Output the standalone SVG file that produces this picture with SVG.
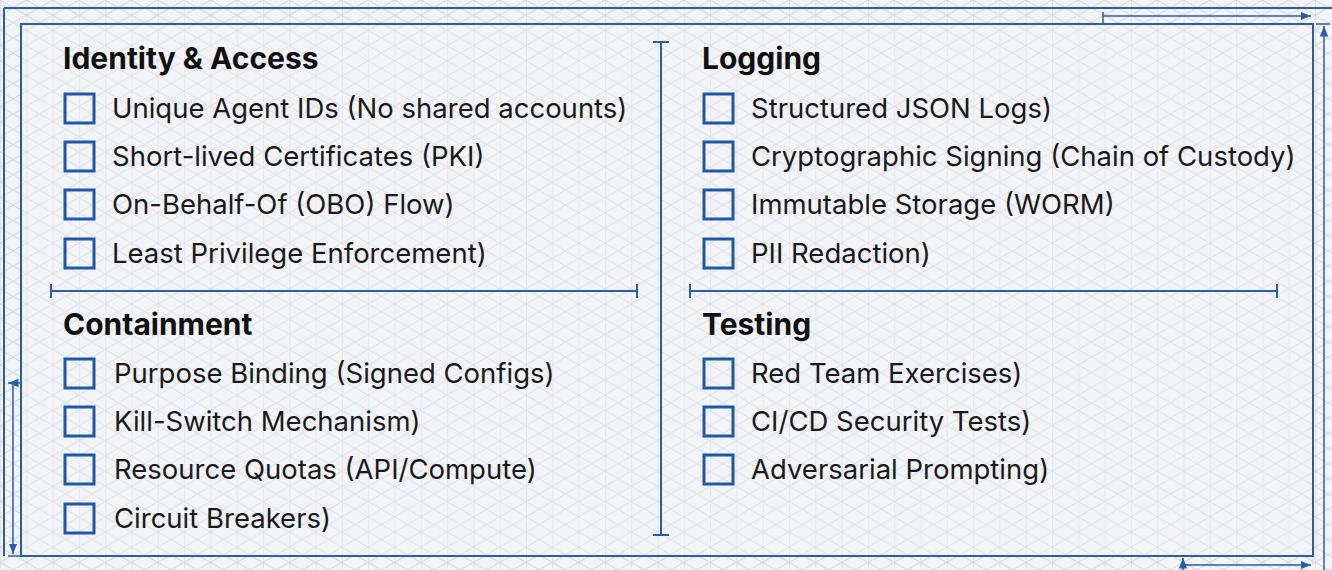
<svg xmlns="http://www.w3.org/2000/svg" width="1332" height="570" viewBox="0 0 1332 570">
<defs>
<pattern id="iso" width="26.3" height="30.4" patternUnits="userSpaceOnUse">
<path d="M0 0V30.4M0 0L26.3 15.2M0 15.2L26.3 30.4M0 15.2L26.3 0M0 30.4L26.3 15.2" stroke="#d2d5dc" stroke-width="1" fill="none"/>
</pattern>
<marker id="ah" viewBox="0 0 10 10" refX="10" refY="5" markerWidth="7" markerHeight="7" orient="auto-start-reverse"><path d="M0 1L10 5L0 9z" fill="#2b5ea8"/></marker>
<style>
.ln{stroke:#2b5ea8;fill:none;stroke-width:2}
.thin{stroke:#2b5ea8;fill:none;stroke-width:1.5}
.cb{fill:none;stroke:#1f58a8;stroke-width:3}
.h{font-family:Inter,"Liberation Sans",sans-serif;font-weight:700;font-size:30px;fill:#111}
.t{font-family:Inter,"Liberation Sans",sans-serif;font-size:27.5px;fill:#1a1a1a}
</style>
</defs>
<rect width="1332" height="570" fill="#f3f4f7"/>
<rect width="1332" height="570" fill="url(#iso)"/>
<rect x="21" y="24" width="1292" height="532" fill="#f3f4f7" opacity="0.3"/>
<g id="frame">
<path class="ln" d="M4 8H1332M4 8V556"/>
<rect class="ln" x="21" y="24" width="1292" height="532"/>
</g>
<g id="connectors">
<path class="thin" d="M1103 12V24M1103 16H1311" marker-end="url(#ah)"/>
<path class="thin" d="M1316 24H1330M1324 570V26" marker-end="url(#ah)"/>
<path class="thin" d="M8 383H20M8 556H20M13 385V554" marker-start="url(#ah)" marker-end="url(#ah)"/>
<path class="thin" d="M1183 558V570M1184 565H1311" marker-start="url(#ah)" marker-end="url(#ah)"/>
<path class="ln" d="M661 42V535M653 42H669M653 535H669"/>
<path class="ln" d="M51 291H637M51 284V298M637 284V298"/>
<path class="ln" d="M690 291H1277M690 284V298M1277 284V298"/>
</g>
<g id="identity">
<text class="h" x="63" y="69">Identity &amp; Access</text>
<rect class="cb" x="65" y="94" width="29" height="29"/><text class="t" x="112" y="118">Unique Agent IDs (No shared accounts)</text>
<rect class="cb" x="65" y="142" width="29" height="29"/><text class="t" x="112" y="166">Short-lived Certificates (PKI)</text>
<rect class="cb" x="65" y="190" width="29" height="29"/><text class="t" x="112" y="214">On-Behalf-Of (OBO) Flow)</text>
<rect class="cb" x="65" y="239" width="29" height="29"/><text class="t" x="112" y="263">Least Privilege Enforcement)</text>
</g>
<g id="logging">
<text class="h" x="702" y="69">Logging</text>
<rect class="cb" x="704" y="94" width="29" height="29"/><text class="t" x="751" y="118">Structured JSON Logs)</text>
<rect class="cb" x="704" y="142" width="29" height="29"/><text class="t" x="751" y="166">Cryptographic Signing (Chain of Custody)</text>
<rect class="cb" x="704" y="190" width="29" height="29"/><text class="t" x="751" y="214">Immutable Storage (WORM)</text>
<rect class="cb" x="704" y="239" width="29" height="29"/><text class="t" x="751" y="263">PII Redaction)</text>
</g>
<g id="containment">
<text class="h" x="63" y="335">Containment</text>
<rect class="cb" x="65" y="359" width="29" height="29"/><text class="t" x="114" y="383">Purpose Binding (Signed Configs)</text>
<rect class="cb" x="65" y="407" width="29" height="29"/><text class="t" x="114" y="431">Kill-Switch Mechanism)</text>
<rect class="cb" x="65" y="455" width="29" height="29"/><text class="t" x="114" y="479">Resource Quotas (API/Compute)</text>
<rect class="cb" x="65" y="504" width="29" height="29"/><text class="t" x="114" y="528">Circuit Breakers)</text>
</g>
<g id="testing">
<text class="h" x="702" y="335">Testing</text>
<rect class="cb" x="704" y="359" width="29" height="29"/><text class="t" x="751" y="383">Red Team Exercises)</text>
<rect class="cb" x="704" y="407" width="29" height="29"/><text class="t" x="751" y="431">CI/CD Security Tests)</text>
<rect class="cb" x="704" y="455" width="29" height="29"/><text class="t" x="751" y="479">Adversarial Prompting)</text>
</g>
</svg>
